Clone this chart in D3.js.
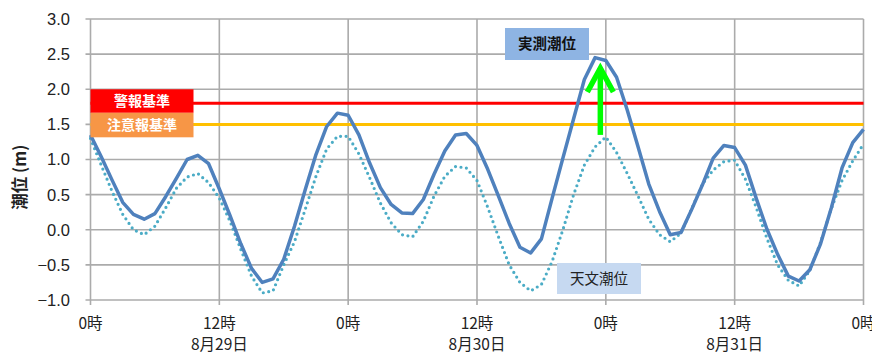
<!DOCTYPE html>
<html><head><meta charset="utf-8">
<script src="https://cdn.jsdelivr.net/npm/d3@7"></script>
<style>
html,body{margin:0;padding:0;background:#fff;}
svg{display:block;}
</style></head>
<body>
<script>
// hourly data, 8/29 0時 .. 9/1 0時
const hours = d3.range(0, 73);
const observed = [1.35,1.04,0.71,0.39,0.22,0.15,0.23,0.47,0.73,1.0,1.06,0.94,
  0.58,0.2,-0.2,-0.55,-0.75,-0.70,-0.42,0.05,0.57,1.07,1.47,1.66,
  1.63,1.35,0.95,0.6,0.36,0.24,0.23,0.43,0.79,1.12,1.35,1.37,
  1.2,0.86,0.48,0.09,-0.25,-0.33,-0.13,0.45,1.02,1.58,2.14,2.45,
  2.41,2.17,1.70,1.18,0.65,0.26,-0.07,-0.04,0.29,0.64,1.02,1.2,
  1.17,0.92,0.45,0.01,-0.35,-0.66,-0.73,-0.57,-0.2,0.31,0.88,1.24,1.43];
const astronomical = [1.3,0.92,0.55,0.22,0.0,-0.07,0.05,0.31,0.59,0.75,0.8,0.67,
  0.45,0.12,-0.28,-0.66,-0.9,-0.87,-0.5,-0.17,0.29,0.76,1.15,1.33,
  1.33,1.08,0.74,0.38,0.1,-0.07,-0.1,0.12,0.48,0.76,0.9,0.88,
  0.7,0.32,-0.1,-0.5,-0.75,-0.87,-0.78,-0.45,0.0,0.5,0.92,1.18,
  1.32,1.1,0.8,0.48,0.15,-0.07,-0.17,-0.05,0.3,0.65,0.85,0.97,
  0.99,0.72,0.32,-0.12,-0.5,-0.72,-0.8,-0.58,-0.18,0.3,0.7,0.98,1.22];
const yTicks = [-1.0,-0.5,0.0,0.5,1.0,1.5,2.0,2.5,3.0];
const xTickHours = [0,12,24,36,48,60,72];
const xTickLabels = ["0時","12時","0時","12時","0時","12時","0時"];
const dateHours = [12,36,60];
const dateLabels = ["8月29日","8月30日","8月31日"];
const warningLevel = 1.8;
const advisoryLevel = 1.5;
const warningLabel = "警報基準";
const advisoryLabel = "注意報基準";
const observedLabel = "実測潮位";
const astroLabel = "天文潮位";
const yTitle = "潮位 (m)";
const peakHour = 48;

const W = 872, H = 353;
const svg = d3.select("body").append("svg").attr("width", W).attr("height", H);
const x = d3.scaleLinear().domain([0, 72]).range([90.5, 863.5]);
const y = d3.scaleLinear().domain([-1, 3]).range([300, 19]);
const jp = "'Noto Sans CJK JP','Noto Sans',sans-serif";
const grid = "#ABABAB";

// horizontal grid
svg.append("g").selectAll("line").data(yTicks).join("line")
  .attr("x1", x(0) - 5).attr("x2", x(72))
  .attr("y1", d => y(d)).attr("y2", d => y(d))
  .attr("stroke", grid).attr("stroke-width", 1.6);
// vertical grid
svg.append("g").selectAll("line").data(xTickHours).join("line")
  .attr("x1", d => x(d)).attr("x2", d => x(d))
  .attr("y1", y(3)).attr("y2", y(-1) + 5)
  .attr("stroke", grid).attr("stroke-width", 1.6);

// y tick labels
svg.append("g").selectAll("text").data(yTicks).join("text")
  .attr("x", 70).attr("y", d => y(d)).attr("dy", "0.36em")
  .attr("text-anchor", "end")
  .attr("font-family", "'Liberation Sans',Arial,sans-serif").attr("font-size", 16.5)
  .attr("fill", "#222")
  .text(d => d3.format(".1f")(d));

// x tick labels
svg.append("g").selectAll("text").data(xTickHours).join("text")
  .attr("x", d => x(d)).attr("y", 329)
  .attr("text-anchor", "middle")
  .attr("font-family", jp).attr("font-size", 15.5).attr("fill", "#222")
  .text((d, i) => xTickLabels[i]);
svg.append("g").selectAll("text").data(dateHours).join("text")
  .attr("x", d => x(d)).attr("y", 350)
  .attr("text-anchor", "middle")
  .attr("font-family", jp).attr("font-size", 15.5).attr("fill", "#222")
  .text((d, i) => dateLabels[i]);

// y title
svg.append("text")
  .attr("transform", `translate(26,${y(0.75)}) rotate(-90)`)
  .attr("text-anchor", "middle")
  .attr("font-family", jp).attr("font-size", 16.5).attr("font-weight", "bold")
  .attr("fill", "#222")
  .text(yTitle);

// threshold lines
svg.append("line").attr("x1", x(0)).attr("x2", x(72))
  .attr("y1", y(warningLevel)).attr("y2", y(warningLevel))
  .attr("stroke", "#FF0000").attr("stroke-width", 3);
svg.append("line").attr("x1", x(0)).attr("x2", x(72))
  .attr("y1", y(advisoryLevel)).attr("y2", y(advisoryLevel))
  .attr("stroke", "#FFC000").attr("stroke-width", 3);

// astronomical (dotted)
const line = d3.line().x((d, i) => x(hours[i])).y(d => y(d));
svg.append("path").datum(astronomical).attr("d", line)
  .attr("fill", "none").attr("stroke", "#4BACC6").attr("stroke-width", 3.2)
  .attr("stroke-linecap", "round").attr("stroke-dasharray", "0 5.5");
// observed
svg.append("path").datum(observed).attr("d", line)
  .attr("fill", "none").attr("stroke", "#4F81BD").attr("stroke-width", 3.5)
  .attr("stroke-linejoin", "round");

// label boxes
function box(x0, y0, w, h, fill, label, color, weight, fs) {
  svg.append("rect").attr("x", x0).attr("y", y0).attr("width", w).attr("height", h).attr("fill", fill);
  svg.append("text").attr("x", x0 + w / 2).attr("y", y0 + h / 2).attr("dy", "0.36em")
    .attr("text-anchor", "middle").attr("font-family", jp).attr("font-size", fs)
    .attr("font-weight", weight).attr("fill", color).text(label);
}
box(x(0), y(warningLevel) - 14, 103, 23.5, "#FF0000", warningLabel, "#fff", "bold", 14);
box(x(0), y(warningLevel) + 9.5, 103, 24.5, "#F79646", advisoryLabel, "#fff", "bold", 14);
box(505, 28, 84, 32, "#8EB4E3", observedLabel, "#111", "bold", 14.5);
box(557, 263, 84, 31, "#C6D9F1", astroLabel, "#222", "normal", 14.5);

// green arrow at peak
const ax = x(peakHour) - 5.5;
svg.append("line").attr("x1", ax).attr("x2", ax)
  .attr("y1", y(1.35)).attr("y2", y(2.3))
  .attr("stroke", "#00FF00").attr("stroke-width", 5.5);
svg.append("path")
  .attr("d", `M${ax - 13},${y(1.96)} L${ax},${y(2.3)} L${ax + 13},${y(1.96)}`)
  .attr("fill", "none").attr("stroke", "#00FF00").attr("stroke-width", 5.5)
  .attr("stroke-linejoin", "miter");
</script>
</body></html>
